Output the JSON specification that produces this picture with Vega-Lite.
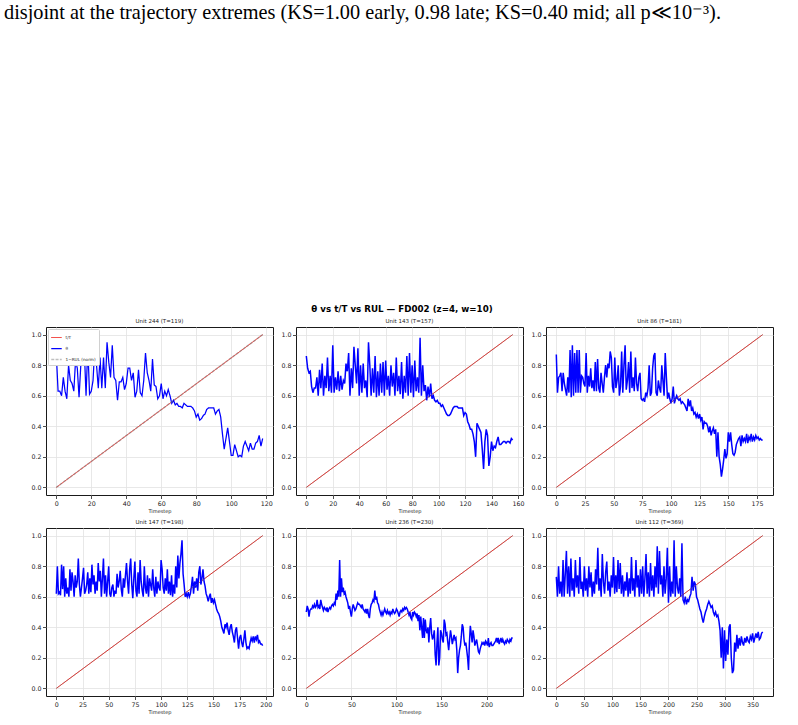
{
"$schema":"https://vega.github.io/schema/vega-lite/v6.json",
"background":"white",
"padding":{"left":4,"top":3,"right":5,"bottom":3},
"config":{
 "view":{"stroke":"#1a1a1a","strokeWidth":1},
 "axis":{"labelFont":"DejaVu Sans","labelFontSize":6.3,"labelColor":"#222","tickColor":"#222","tickSize":3.5,"tickWidth":0.8,"domain":false,"grid":true,"gridColor":"#e2e2e2","gridWidth":0.8,"titleFont":"DejaVu Sans","titleFontSize":5,"titleFontWeight":"normal","titleColor":"#222","labelPadding":1.5,"titlePadding":2},
 "legend":{"padding":2.5,"fillColor":"white","strokeColor":"#d0d0d0","cornerRadius":1,"labelFont":"DejaVu Sans","labelFontSize":4.2,"labelColor":"#222","symbolSize":110,"rowPadding":2,"labelOffset":3,"offset":2},
 "title":{"font":"DejaVu Sans","fontWeight":"normal","color":"#222","fontSize":5.5,"offset":3}
},
"title":{"text":"disjoint at the trajectory extremes (KS=1.00 early, 0.98 late; KS=0.40 mid; all p≪10⁻³).","anchor":"start","frame":"group","font":"Liberation Serif","fontSize":20.3,"color":"#000","offset":282,"dx":-42},
"datasets":{
"diag":[{"u":244,"t":0,"v":0},{"u":244,"t":118,"v":1},{"u":143,"t":0,"v":0},{"u":143,"t":156,"v":1},{"u":86,"t":0,"v":0},{"u":86,"t":180,"v":1},{"u":147,"t":0,"v":0},{"u":147,"t":197,"v":1},{"u":236,"t":0,"v":0},{"u":236,"t":229,"v":1},{"u":112,"t":0,"v":0},{"u":112,"t":368,"v":1}],
"p244":[{"t":0,"v":0.87},{"t":1,"v":0.63},{"t":2,"v":0.63},{"t":3,"v":0.60},{"t":4,"v":0.72},{"t":5,"v":0.63},{"t":6,"v":0.58},{"t":7,"v":0.80},{"t":8,"v":0.70},{"t":9,"v":0.68},
{"t":10,"v":0.63},{"t":11,"v":0.83},{"t":12,"v":0.78},{"t":13,"v":0.59},{"t":14,"v":0.80},{"t":15,"v":0.86},{"t":16,"v":0.90},{"t":17,"v":0.60},{"t":18,"v":0.92},{"t":19,"v":0.61},
{"t":20,"v":0.63},{"t":21,"v":0.70},{"t":22,"v":0.92},{"t":23,"v":0.80},{"t":24,"v":0.65},{"t":25,"v":0.85},{"t":26,"v":0.65},{"t":27,"v":0.85},{"t":28,"v":0.65},{"t":29,"v":0.95},
{"t":30,"v":0.82},{"t":31,"v":0.72},{"t":32,"v":0.93},{"t":33,"v":0.72},{"t":34,"v":0.70},{"t":35,"v":0.57},{"t":36,"v":0.69},{"t":37,"v":0.69},{"t":38,"v":0.72},{"t":39,"v":0.64},
{"t":40,"v":0.68},{"t":41,"v":0.78},{"t":42,"v":0.78},{"t":43,"v":0.70},{"t":44,"v":0.75},{"t":45,"v":0.59},{"t":46,"v":0.63},{"t":47,"v":0.77},{"t":48,"v":0.62},{"t":49,"v":0.60},
{"t":50,"v":0.70},{"t":51,"v":0.88},{"t":52,"v":0.75},{"t":53,"v":0.70},{"t":54,"v":0.63},{"t":55,"v":0.84},{"t":56,"v":0.67},{"t":57,"v":0.66},{"t":58,"v":0.58},{"t":59,"v":0.60},
{"t":60,"v":0.68},{"t":61,"v":0.58},{"t":62,"v":0.63},{"t":63,"v":0.60},{"t":64,"v":0.64},{"t":65,"v":0.60},{"t":66,"v":0.55},{"t":67,"v":0.57},{"t":68,"v":0.54},{"t":69,"v":0.55},
{"t":70,"v":0.53},{"t":71,"v":0.53},{"t":72,"v":0.52},{"t":73,"v":0.55},{"t":74,"v":0.54},{"t":75,"v":0.53},{"t":76,"v":0.53},{"t":77,"v":0.53},{"t":78,"v":0.52},{"t":79,"v":0.50},
{"t":80,"v":0.46},{"t":81,"v":0.48},{"t":82,"v":0.44},{"t":83,"v":0.45},{"t":84,"v":0.47},{"t":85,"v":0.48},{"t":86,"v":0.51},{"t":87,"v":0.52},{"t":88,"v":0.52},{"t":89,"v":0.52},
{"t":90,"v":0.52},{"t":91,"v":0.48},{"t":92,"v":0.50},{"t":93,"v":0.51},{"t":94,"v":0.46},{"t":95,"v":0.35},{"t":96,"v":0.25},{"t":97,"v":0.32},{"t":98,"v":0.39},{"t":99,"v":0.30},
{"t":100,"v":0.21},{"t":101,"v":0.21},{"t":102,"v":0.28},{"t":103,"v":0.24},{"t":104,"v":0.20},{"t":105,"v":0.21},{"t":106,"v":0.20},{"t":107,"v":0.27},{"t":108,"v":0.30},{"t":109,"v":0.27},
{"t":110,"v":0.24},{"t":111,"v":0.29},{"t":112,"v":0.25},{"t":113,"v":0.25},{"t":114,"v":0.29},{"t":115,"v":0.30},{"t":116,"v":0.34},{"t":117,"v":0.27},{"t":118,"v":0.32}],
"p143":[{"t":0,"v":0.86},{"t":1,"v":0.78},{"t":2,"v":0.75},{"t":3,"v":0.76},{"t":4,"v":0.66},{"t":5,"v":0.62},{"t":6,"v":0.65},{"t":7,"v":0.65},{"t":8,"v":0.72},{"t":9,"v":0.60},
{"t":10,"v":0.77},{"t":11,"v":0.65},{"t":12,"v":0.81},{"t":13,"v":0.60},{"t":14,"v":0.73},{"t":15,"v":0.65},{"t":16,"v":0.85},{"t":17,"v":0.63},{"t":18,"v":0.73},{"t":19,"v":0.62},
{"t":20,"v":0.93},{"t":21,"v":0.62},{"t":22,"v":0.72},{"t":23,"v":0.64},{"t":24,"v":0.76},{"t":25,"v":0.63},{"t":26,"v":0.73},{"t":27,"v":0.64},{"t":28,"v":0.70},{"t":29,"v":0.68},
{"t":30,"v":0.81},{"t":31,"v":0.76},{"t":32,"v":0.88},{"t":33,"v":0.60},{"t":34,"v":0.78},{"t":35,"v":0.65},{"t":36,"v":0.92},{"t":37,"v":0.80},{"t":38,"v":0.68},{"t":39,"v":0.91},
{"t":40,"v":0.60},{"t":41,"v":0.80},{"t":42,"v":0.62},{"t":43,"v":0.81},{"t":44,"v":0.65},{"t":45,"v":0.70},{"t":46,"v":0.59},{"t":47,"v":0.95},{"t":48,"v":0.80},{"t":49,"v":0.60},
{"t":50,"v":0.78},{"t":51,"v":0.62},{"t":52,"v":0.86},{"t":53,"v":0.59},{"t":54,"v":0.76},{"t":55,"v":0.60},{"t":56,"v":0.81},{"t":57,"v":0.62},{"t":58,"v":0.82},{"t":59,"v":0.60},
{"t":60,"v":0.83},{"t":61,"v":0.64},{"t":62,"v":0.73},{"t":63,"v":0.60},{"t":64,"v":0.80},{"t":65,"v":0.66},{"t":66,"v":0.75},{"t":67,"v":0.60},{"t":68,"v":0.85},{"t":69,"v":0.63},
{"t":70,"v":0.73},{"t":71,"v":0.61},{"t":72,"v":0.82},{"t":73,"v":0.58},{"t":74,"v":0.73},{"t":75,"v":0.62},{"t":76,"v":0.86},{"t":77,"v":0.60},{"t":78,"v":0.88},{"t":79,"v":0.62},
{"t":80,"v":0.80},{"t":81,"v":0.59},{"t":82,"v":0.83},{"t":83,"v":0.63},{"t":84,"v":0.72},{"t":85,"v":0.62},{"t":86,"v":0.98},{"t":87,"v":0.60},{"t":88,"v":0.80},{"t":89,"v":0.63},
{"t":90,"v":0.67},{"t":91,"v":0.57},{"t":92,"v":0.66},{"t":93,"v":0.59},{"t":94,"v":0.68},{"t":95,"v":0.58},{"t":96,"v":0.60},{"t":97,"v":0.57},{"t":98,"v":0.56},{"t":99,"v":0.57},
{"t":100,"v":0.55},{"t":101,"v":0.55},{"t":102,"v":0.53},{"t":103,"v":0.54},{"t":104,"v":0.52},{"t":105,"v":0.50},{"t":106,"v":0.48},{"t":107,"v":0.47},{"t":108,"v":0.47},{"t":109,"v":0.48},
{"t":110,"v":0.50},{"t":111,"v":0.52},{"t":112,"v":0.53},{"t":113,"v":0.53},{"t":114,"v":0.53},{"t":115,"v":0.52},{"t":116,"v":0.52},{"t":117,"v":0.52},{"t":118,"v":0.52},{"t":119,"v":0.47},
{"t":120,"v":0.49},{"t":121,"v":0.48},{"t":122,"v":0.43},{"t":123,"v":0.41},{"t":124,"v":0.38},{"t":125,"v":0.38},{"t":126,"v":0.35},{"t":127,"v":0.30},{"t":128,"v":0.20},{"t":129,"v":0.42},
{"t":130,"v":0.40},{"t":131,"v":0.38},{"t":132,"v":0.36},{"t":133,"v":0.25},{"t":134,"v":0.12},{"t":135,"v":0.30},{"t":136,"v":0.38},{"t":137,"v":0.34},{"t":138,"v":0.14},{"t":139,"v":0.20},
{"t":140,"v":0.30},{"t":141,"v":0.24},{"t":142,"v":0.27},{"t":143,"v":0.26},{"t":144,"v":0.30},{"t":145,"v":0.33},{"t":146,"v":0.28},{"t":147,"v":0.28},{"t":148,"v":0.29},{"t":149,"v":0.30},
{"t":150,"v":0.30},{"t":151,"v":0.29},{"t":152,"v":0.30},{"t":153,"v":0.30},{"t":154,"v":0.29},{"t":155,"v":0.32},{"t":156,"v":0.31}],
"p86":[{"t":0,"v":0.87},{"t":1,"v":0.62},{"t":2,"v":0.72},{"t":3,"v":0.73},{"t":4,"v":0.75},{"t":5,"v":0.63},{"t":6,"v":0.75},{"t":7,"v":0.68},{"t":8,"v":0.64},{"t":9,"v":0.60},
{"t":10,"v":0.72},{"t":11,"v":0.62},{"t":12,"v":0.90},{"t":13,"v":0.59},{"t":14,"v":0.93},{"t":15,"v":0.60},{"t":16,"v":0.88},{"t":17,"v":0.62},{"t":18,"v":0.90},{"t":19,"v":0.62},
{"t":20,"v":0.90},{"t":21,"v":0.62},{"t":22,"v":0.73},{"t":23,"v":0.72},{"t":24,"v":0.68},{"t":25,"v":0.66},{"t":26,"v":0.88},{"t":27,"v":0.62},{"t":28,"v":0.73},{"t":29,"v":0.66},
{"t":30,"v":0.78},{"t":31,"v":0.65},{"t":32,"v":0.70},{"t":33,"v":0.63},{"t":34,"v":0.82},{"t":35,"v":0.63},{"t":36,"v":0.84},{"t":37,"v":0.65},{"t":38,"v":0.62},{"t":39,"v":0.75},
{"t":40,"v":0.68},{"t":41,"v":0.62},{"t":42,"v":0.72},{"t":43,"v":0.80},{"t":44,"v":0.72},{"t":45,"v":0.81},{"t":46,"v":0.78},{"t":47,"v":0.89},{"t":48,"v":0.85},{"t":49,"v":0.66},
{"t":50,"v":0.62},{"t":51,"v":0.85},{"t":52,"v":0.65},{"t":53,"v":0.70},{"t":54,"v":0.80},{"t":55,"v":0.60},{"t":56,"v":0.66},{"t":57,"v":0.89},{"t":58,"v":0.62},{"t":59,"v":0.80},
{"t":60,"v":0.93},{"t":61,"v":0.64},{"t":62,"v":0.70},{"t":63,"v":0.82},{"t":64,"v":0.62},{"t":65,"v":0.89},{"t":66,"v":0.65},{"t":67,"v":0.72},{"t":68,"v":0.63},{"t":69,"v":0.85},
{"t":70,"v":0.68},{"t":71,"v":0.63},{"t":72,"v":0.72},{"t":73,"v":0.75},{"t":74,"v":0.58},{"t":75,"v":0.57},{"t":76,"v":0.58},{"t":77,"v":0.56},{"t":78,"v":0.62},{"t":79,"v":0.60},
{"t":80,"v":0.65},{"t":81,"v":0.80},{"t":82,"v":0.60},{"t":83,"v":0.62},{"t":84,"v":0.78},{"t":85,"v":0.86},{"t":86,"v":0.88},{"t":87,"v":0.62},{"t":88,"v":0.60},{"t":89,"v":0.70},
{"t":90,"v":0.65},{"t":91,"v":0.62},{"t":92,"v":0.80},{"t":93,"v":0.70},{"t":94,"v":0.60},{"t":95,"v":0.88},{"t":96,"v":0.72},{"t":97,"v":0.58},{"t":98,"v":0.62},{"t":99,"v":0.58},
{"t":100,"v":0.55},{"t":101,"v":0.58},{"t":102,"v":0.66},{"t":103,"v":0.55},{"t":104,"v":0.58},{"t":105,"v":0.60},{"t":106,"v":0.58},{"t":107,"v":0.57},{"t":108,"v":0.58},{"t":109,"v":0.55},
{"t":110,"v":0.56},{"t":111,"v":0.55},{"t":112,"v":0.54},{"t":113,"v":0.52},{"t":114,"v":0.50},{"t":115,"v":0.58},{"t":116,"v":0.53},{"t":117,"v":0.57},{"t":118,"v":0.50},{"t":119,"v":0.52},
{"t":120,"v":0.48},{"t":121,"v":0.49},{"t":122,"v":0.46},{"t":123,"v":0.48},{"t":124,"v":0.45},{"t":125,"v":0.48},{"t":126,"v":0.44},{"t":127,"v":0.46},{"t":128,"v":0.38},{"t":129,"v":0.43},
{"t":130,"v":0.42},{"t":131,"v":0.42},{"t":132,"v":0.40},{"t":133,"v":0.36},{"t":134,"v":0.40},{"t":135,"v":0.34},{"t":136,"v":0.37},{"t":137,"v":0.39},{"t":138,"v":0.35},{"t":139,"v":0.38},
{"t":140,"v":0.20},{"t":141,"v":0.36},{"t":142,"v":0.20},{"t":143,"v":0.15},{"t":144,"v":0.07},{"t":145,"v":0.12},{"t":146,"v":0.18},{"t":147,"v":0.25},{"t":148,"v":0.19},{"t":149,"v":0.22},
{"t":150,"v":0.36},{"t":151,"v":0.30},{"t":152,"v":0.36},{"t":153,"v":0.28},{"t":154,"v":0.22},{"t":155,"v":0.21},{"t":156,"v":0.23},{"t":157,"v":0.28},{"t":158,"v":0.30},{"t":159,"v":0.32},
{"t":160,"v":0.33},{"t":161,"v":0.27},{"t":162,"v":0.34},{"t":163,"v":0.30},{"t":164,"v":0.32},{"t":165,"v":0.30},{"t":166,"v":0.35},{"t":167,"v":0.29},{"t":168,"v":0.33},{"t":169,"v":0.31},
{"t":170,"v":0.35},{"t":171,"v":0.30},{"t":172,"v":0.33},{"t":173,"v":0.31},{"t":174,"v":0.34},{"t":175,"v":0.32},{"t":176,"v":0.33},{"t":177,"v":0.31},{"t":178,"v":0.32},{"t":179,"v":0.31},{"t":180,"v":0.31}],
"p147":[{"t":0,"v":0.62},{"t":1,"v":0.80},{"t":2,"v":0.62},{"t":3,"v":0.63},{"t":4,"v":0.61},{"t":5,"v":0.81},{"t":6,"v":0.65},{"t":7,"v":0.80},{"t":8,"v":0.60},{"t":9,"v":0.72},
{"t":10,"v":0.62},{"t":11,"v":0.66},{"t":12,"v":0.60},{"t":13,"v":0.78},{"t":14,"v":0.64},{"t":15,"v":0.76},{"t":16,"v":0.70},{"t":17,"v":0.60},{"t":18,"v":0.74},{"t":19,"v":0.66},
{"t":20,"v":0.70},{"t":21,"v":0.85},{"t":22,"v":0.68},{"t":23,"v":0.60},{"t":24,"v":0.66},{"t":25,"v":0.72},{"t":26,"v":0.79},{"t":27,"v":0.62},{"t":28,"v":0.64},{"t":29,"v":0.68},
{"t":30,"v":0.76},{"t":31,"v":0.62},{"t":32,"v":0.72},{"t":33,"v":0.63},{"t":34,"v":0.81},{"t":35,"v":0.68},{"t":36,"v":0.74},{"t":37,"v":0.62},{"t":38,"v":0.70},{"t":39,"v":0.64},
{"t":40,"v":0.82},{"t":41,"v":0.70},{"t":42,"v":0.77},{"t":43,"v":0.60},{"t":44,"v":0.72},{"t":45,"v":0.85},{"t":46,"v":0.62},{"t":47,"v":0.74},{"t":48,"v":0.60},{"t":49,"v":0.70},
{"t":50,"v":0.80},{"t":51,"v":0.62},{"t":52,"v":0.60},{"t":53,"v":0.66},{"t":54,"v":0.68},{"t":55,"v":0.60},{"t":56,"v":0.64},{"t":57,"v":0.62},{"t":58,"v":0.75},{"t":59,"v":0.66},
{"t":60,"v":0.70},{"t":61,"v":0.77},{"t":62,"v":0.65},{"t":63,"v":0.60},{"t":64,"v":0.72},{"t":65,"v":0.66},{"t":66,"v":0.74},{"t":67,"v":0.82},{"t":68,"v":0.70},{"t":69,"v":0.62},
{"t":70,"v":0.78},{"t":71,"v":0.85},{"t":72,"v":0.68},{"t":73,"v":0.59},{"t":74,"v":0.72},{"t":75,"v":0.83},{"t":76,"v":0.64},{"t":77,"v":0.60},{"t":78,"v":0.76},{"t":79,"v":0.62},
{"t":80,"v":0.84},{"t":81,"v":0.70},{"t":82,"v":0.64},{"t":83,"v":0.60},{"t":84,"v":0.80},{"t":85,"v":0.66},{"t":86,"v":0.62},{"t":87,"v":0.74},{"t":88,"v":0.60},{"t":89,"v":0.72},
{"t":90,"v":0.68},{"t":91,"v":0.64},{"t":92,"v":0.78},{"t":93,"v":0.66},{"t":94,"v":0.60},{"t":95,"v":0.73},{"t":96,"v":0.62},{"t":97,"v":0.70},{"t":98,"v":0.66},{"t":99,"v":0.64},
{"t":100,"v":0.84},{"t":101,"v":0.78},{"t":102,"v":0.66},{"t":103,"v":0.62},{"t":104,"v":0.72},{"t":105,"v":0.64},{"t":106,"v":0.78},{"t":107,"v":0.62},{"t":108,"v":0.70},{"t":109,"v":0.61},
{"t":110,"v":0.74},{"t":111,"v":0.60},{"t":112,"v":0.68},{"t":113,"v":0.62},{"t":114,"v":0.80},{"t":115,"v":0.66},{"t":116,"v":0.87},{"t":117,"v":0.72},{"t":118,"v":0.82},{"t":119,"v":0.88},
{"t":120,"v":0.97},{"t":121,"v":0.75},{"t":122,"v":0.68},{"t":123,"v":0.60},{"t":124,"v":0.62},{"t":125,"v":0.60},{"t":126,"v":0.63},{"t":127,"v":0.60},{"t":128,"v":0.62},{"t":129,"v":0.67},
{"t":130,"v":0.73},{"t":131,"v":0.62},{"t":132,"v":0.70},{"t":133,"v":0.66},{"t":134,"v":0.72},{"t":135,"v":0.64},{"t":136,"v":0.76},{"t":137,"v":0.80},{"t":138,"v":0.68},{"t":139,"v":0.72},
{"t":140,"v":0.78},{"t":141,"v":0.70},{"t":142,"v":0.67},{"t":143,"v":0.62},{"t":144,"v":0.60},{"t":145,"v":0.57},{"t":146,"v":0.60},{"t":147,"v":0.62},{"t":148,"v":0.56},{"t":149,"v":0.59},
{"t":150,"v":0.56},{"t":151,"v":0.58},{"t":152,"v":0.55},{"t":153,"v":0.52},{"t":154,"v":0.50},{"t":155,"v":0.49},{"t":156,"v":0.47},{"t":157,"v":0.44},{"t":158,"v":0.40},{"t":159,"v":0.38},
{"t":160,"v":0.36},{"t":161,"v":0.42},{"t":162,"v":0.40},{"t":163,"v":0.43},{"t":164,"v":0.38},{"t":165,"v":0.35},{"t":166,"v":0.40},{"t":167,"v":0.42},{"t":168,"v":0.37},{"t":169,"v":0.34},
{"t":170,"v":0.30},{"t":171,"v":0.38},{"t":172,"v":0.40},{"t":173,"v":0.33},{"t":174,"v":0.26},{"t":175,"v":0.33},{"t":176,"v":0.35},{"t":177,"v":0.30},{"t":178,"v":0.27},{"t":179,"v":0.32},
{"t":180,"v":0.38},{"t":181,"v":0.30},{"t":182,"v":0.26},{"t":183,"v":0.27},{"t":184,"v":0.26},{"t":185,"v":0.30},{"t":186,"v":0.33},{"t":187,"v":0.31},{"t":188,"v":0.34},{"t":189,"v":0.30},
{"t":190,"v":0.34},{"t":191,"v":0.32},{"t":192,"v":0.35},{"t":193,"v":0.30},{"t":194,"v":0.31},{"t":195,"v":0.29},{"t":196,"v":0.29},{"t":197,"v":0.28}],
"p236":[{"t":0,"v":0.50},{"t":1,"v":0.54},{"t":2,"v":0.52},{"t":3,"v":0.47},{"t":4,"v":0.51},{"t":5,"v":0.52},{"t":6,"v":0.52},{"t":7,"v":0.54},{"t":8,"v":0.53},{"t":9,"v":0.55},
{"t":10,"v":0.53},{"t":11,"v":0.54},{"t":12,"v":0.58},{"t":13,"v":0.53},{"t":14,"v":0.54},{"t":15,"v":0.52},{"t":16,"v":0.58},{"t":17,"v":0.55},{"t":18,"v":0.53},{"t":19,"v":0.51},
{"t":20,"v":0.53},{"t":21,"v":0.52},{"t":22,"v":0.51},{"t":23,"v":0.53},{"t":24,"v":0.50},{"t":25,"v":0.52},{"t":26,"v":0.53},{"t":27,"v":0.52},{"t":28,"v":0.54},{"t":29,"v":0.55},
{"t":30,"v":0.54},{"t":31,"v":0.56},{"t":32,"v":0.55},{"t":33,"v":0.62},{"t":34,"v":0.58},{"t":35,"v":0.64},{"t":36,"v":0.60},{"t":37,"v":0.84},{"t":38,"v":0.60},{"t":39,"v":0.72},
{"t":40,"v":0.63},{"t":41,"v":0.66},{"t":42,"v":0.62},{"t":43,"v":0.63},{"t":44,"v":0.60},{"t":45,"v":0.58},{"t":46,"v":0.56},{"t":47,"v":0.52},{"t":48,"v":0.54},{"t":49,"v":0.50},
{"t":50,"v":0.47},{"t":51,"v":0.52},{"t":52,"v":0.55},{"t":53,"v":0.53},{"t":54,"v":0.51},{"t":55,"v":0.52},{"t":56,"v":0.54},{"t":57,"v":0.56},{"t":58,"v":0.55},{"t":59,"v":0.55},
{"t":60,"v":0.54},{"t":61,"v":0.53},{"t":62,"v":0.55},{"t":63,"v":0.52},{"t":64,"v":0.51},{"t":65,"v":0.50},{"t":66,"v":0.52},{"t":67,"v":0.49},{"t":68,"v":0.52},{"t":69,"v":0.48},
{"t":70,"v":0.46},{"t":71,"v":0.52},{"t":72,"v":0.55},{"t":73,"v":0.56},{"t":74,"v":0.58},{"t":75,"v":0.57},{"t":76,"v":0.64},{"t":77,"v":0.58},{"t":78,"v":0.60},{"t":79,"v":0.56},
{"t":80,"v":0.55},{"t":81,"v":0.52},{"t":82,"v":0.50},{"t":83,"v":0.48},{"t":84,"v":0.50},{"t":85,"v":0.48},{"t":86,"v":0.50},{"t":87,"v":0.52},{"t":88,"v":0.50},{"t":89,"v":0.49},
{"t":90,"v":0.51},{"t":91,"v":0.49},{"t":92,"v":0.50},{"t":93,"v":0.48},{"t":94,"v":0.50},{"t":95,"v":0.49},{"t":96,"v":0.52},{"t":97,"v":0.50},{"t":98,"v":0.49},{"t":99,"v":0.50},
{"t":100,"v":0.52},{"t":101,"v":0.51},{"t":102,"v":0.49},{"t":103,"v":0.47},{"t":104,"v":0.50},{"t":105,"v":0.51},{"t":106,"v":0.50},{"t":107,"v":0.52},{"t":108,"v":0.51},{"t":109,"v":0.53},
{"t":110,"v":0.52},{"t":111,"v":0.53},{"t":112,"v":0.52},{"t":113,"v":0.50},{"t":114,"v":0.48},{"t":115,"v":0.50},{"t":116,"v":0.46},{"t":117,"v":0.45},{"t":118,"v":0.50},{"t":119,"v":0.48},
{"t":120,"v":0.50},{"t":121,"v":0.49},{"t":122,"v":0.47},{"t":123,"v":0.49},{"t":124,"v":0.44},{"t":125,"v":0.48},{"t":126,"v":0.38},{"t":127,"v":0.47},{"t":128,"v":0.40},{"t":129,"v":0.33},
{"t":130,"v":0.46},{"t":131,"v":0.33},{"t":132,"v":0.45},{"t":133,"v":0.38},{"t":134,"v":0.36},{"t":135,"v":0.40},{"t":136,"v":0.30},{"t":137,"v":0.40},{"t":138,"v":0.46},{"t":139,"v":0.36},
{"t":140,"v":0.32},{"t":141,"v":0.34},{"t":142,"v":0.38},{"t":143,"v":0.22},{"t":144,"v":0.15},{"t":145,"v":0.30},{"t":146,"v":0.40},{"t":147,"v":0.15},{"t":148,"v":0.20},{"t":149,"v":0.38},
{"t":150,"v":0.36},{"t":151,"v":0.32},{"t":152,"v":0.30},{"t":153,"v":0.45},{"t":154,"v":0.42},{"t":155,"v":0.35},{"t":156,"v":0.36},{"t":157,"v":0.30},{"t":158,"v":0.25},{"t":159,"v":0.32},
{"t":160,"v":0.38},{"t":161,"v":0.34},{"t":162,"v":0.29},{"t":163,"v":0.32},{"t":164,"v":0.35},{"t":165,"v":0.32},{"t":166,"v":0.33},{"t":167,"v":0.25},{"t":168,"v":0.10},{"t":169,"v":0.20},
{"t":170,"v":0.25},{"t":171,"v":0.28},{"t":172,"v":0.34},{"t":173,"v":0.42},{"t":174,"v":0.40},{"t":175,"v":0.32},{"t":176,"v":0.28},{"t":177,"v":0.30},{"t":178,"v":0.25},{"t":179,"v":0.20},
{"t":180,"v":0.12},{"t":181,"v":0.30},{"t":182,"v":0.41},{"t":183,"v":0.36},{"t":184,"v":0.30},{"t":185,"v":0.38},{"t":186,"v":0.34},{"t":187,"v":0.28},{"t":188,"v":0.30},{"t":189,"v":0.32},
{"t":190,"v":0.28},{"t":191,"v":0.24},{"t":192,"v":0.23},{"t":193,"v":0.26},{"t":194,"v":0.28},{"t":195,"v":0.30},{"t":196,"v":0.29},{"t":197,"v":0.30},{"t":198,"v":0.28},{"t":199,"v":0.31},
{"t":200,"v":0.30},{"t":201,"v":0.28},{"t":202,"v":0.33},{"t":203,"v":0.27},{"t":204,"v":0.29},{"t":205,"v":0.30},{"t":206,"v":0.28},{"t":207,"v":0.28},{"t":208,"v":0.29},{"t":209,"v":0.30},
{"t":210,"v":0.31},{"t":211,"v":0.33},{"t":212,"v":0.30},{"t":213,"v":0.33},{"t":214,"v":0.29},{"t":215,"v":0.31},{"t":216,"v":0.33},{"t":217,"v":0.30},{"t":218,"v":0.32},{"t":219,"v":0.30},
{"t":220,"v":0.29},{"t":221,"v":0.31},{"t":222,"v":0.30},{"t":223,"v":0.32},{"t":224,"v":0.31},{"t":225,"v":0.30},{"t":226,"v":0.32},{"t":227,"v":0.31},{"t":228,"v":0.33},{"t":229,"v":0.33}],
"p112":[{"t":0,"v":0.73},{"t":2,"v":0.60},{"t":4,"v":0.80},{"t":6,"v":0.62},{"t":8,"v":0.70},{"t":10,"v":0.60},{"t":12,"v":0.84},{"t":14,"v":0.60},{"t":16,"v":0.75},{"t":18,"v":0.90},
{"t":20,"v":0.62},{"t":22,"v":0.80},{"t":24,"v":0.60},{"t":26,"v":0.85},{"t":28,"v":0.64},{"t":30,"v":0.72},{"t":32,"v":0.60},{"t":34,"v":0.84},{"t":36,"v":0.66},{"t":38,"v":0.74},
{"t":40,"v":0.62},{"t":42,"v":0.86},{"t":44,"v":0.65},{"t":46,"v":0.70},{"t":48,"v":0.60},{"t":50,"v":0.80},{"t":52,"v":0.64},{"t":54,"v":0.72},{"t":56,"v":0.60},{"t":58,"v":0.80},
{"t":60,"v":0.66},{"t":62,"v":0.76},{"t":64,"v":0.60},{"t":66,"v":0.70},{"t":68,"v":0.62},{"t":70,"v":0.78},{"t":72,"v":0.68},{"t":74,"v":0.92},{"t":76,"v":0.64},{"t":78,"v":0.72},
{"t":80,"v":0.60},{"t":82,"v":0.88},{"t":84,"v":0.70},{"t":86,"v":0.62},{"t":88,"v":0.76},{"t":90,"v":0.83},{"t":92,"v":0.64},{"t":94,"v":0.70},{"t":96,"v":0.60},{"t":98,"v":0.74},
{"t":100,"v":0.66},{"t":102,"v":0.86},{"t":104,"v":0.62},{"t":106,"v":0.74},{"t":108,"v":0.63},{"t":110,"v":0.84},{"t":112,"v":0.65},{"t":114,"v":0.82},{"t":116,"v":0.62},{"t":118,"v":0.74},
{"t":120,"v":0.60},{"t":122,"v":0.70},{"t":124,"v":0.64},{"t":126,"v":0.76},{"t":128,"v":0.60},{"t":130,"v":0.72},{"t":132,"v":0.62},{"t":134,"v":0.86},{"t":136,"v":0.64},{"t":138,"v":0.72},
{"t":140,"v":0.60},{"t":142,"v":0.84},{"t":144,"v":0.66},{"t":146,"v":0.74},{"t":148,"v":0.60},{"t":150,"v":0.78},{"t":152,"v":0.62},{"t":154,"v":0.80},{"t":156,"v":0.60},{"t":158,"v":0.72},
{"t":160,"v":0.88},{"t":162,"v":0.62},{"t":164,"v":0.76},{"t":166,"v":0.60},{"t":168,"v":0.82},{"t":170,"v":0.64},{"t":172,"v":0.74},{"t":174,"v":0.60},{"t":176,"v":0.80},{"t":178,"v":0.66},
{"t":180,"v":0.93},{"t":182,"v":0.62},{"t":184,"v":0.90},{"t":186,"v":0.68},{"t":188,"v":0.74},{"t":190,"v":0.60},{"t":192,"v":0.80},{"t":194,"v":0.62},{"t":196,"v":0.72},{"t":198,"v":0.92},
{"t":200,"v":0.56},{"t":202,"v":0.80},{"t":204,"v":0.60},{"t":206,"v":0.70},{"t":208,"v":0.62},{"t":210,"v":0.97},{"t":212,"v":0.60},{"t":214,"v":0.80},{"t":216,"v":0.66},{"t":218,"v":0.62},
{"t":220,"v":0.72},{"t":222,"v":0.60},{"t":224,"v":0.95},{"t":226,"v":0.58},{"t":228,"v":0.56},{"t":230,"v":0.60},{"t":232,"v":0.55},{"t":234,"v":0.58},{"t":236,"v":0.57},{"t":238,"v":0.60},
{"t":240,"v":0.62},{"t":242,"v":0.73},{"t":244,"v":0.64},{"t":246,"v":0.70},{"t":248,"v":0.68},{"t":250,"v":0.60},{"t":252,"v":0.58},{"t":254,"v":0.55},{"t":256,"v":0.52},{"t":258,"v":0.50},
{"t":260,"v":0.46},{"t":262,"v":0.43},{"t":264,"v":0.47},{"t":266,"v":0.50},{"t":268,"v":0.52},{"t":270,"v":0.55},{"t":272,"v":0.57},{"t":274,"v":0.55},{"t":276,"v":0.53},{"t":278,"v":0.54},
{"t":280,"v":0.50},{"t":282,"v":0.48},{"t":284,"v":0.50},{"t":286,"v":0.47},{"t":288,"v":0.48},{"t":290,"v":0.44},{"t":292,"v":0.38},{"t":294,"v":0.20},{"t":296,"v":0.40},{"t":298,"v":0.13},
{"t":300,"v":0.38},{"t":302,"v":0.18},{"t":304,"v":0.32},{"t":306,"v":0.22},{"t":308,"v":0.40},{"t":310,"v":0.42},{"t":312,"v":0.20},{"t":314,"v":0.10},{"t":316,"v":0.12},{"t":318,"v":0.30},
{"t":320,"v":0.24},{"t":322,"v":0.35},{"t":324,"v":0.26},{"t":326,"v":0.33},{"t":328,"v":0.28},{"t":330,"v":0.34},{"t":332,"v":0.30},{"t":334,"v":0.28},{"t":336,"v":0.33},{"t":338,"v":0.30},
{"t":340,"v":0.34},{"t":342,"v":0.31},{"t":344,"v":0.30},{"t":346,"v":0.34},{"t":348,"v":0.32},{"t":350,"v":0.36},{"t":352,"v":0.30},{"t":354,"v":0.33},{"t":356,"v":0.36},{"t":358,"v":0.33},
{"t":360,"v":0.37},{"t":362,"v":0.32},{"t":364,"v":0.33},{"t":366,"v":0.36},{"t":368,"v":0.37}]
},
"resolve":{"scale":{"color":"independent","strokeDash":"independent","strokeWidth":"independent"}},
"spacing":5,
"vconcat":[
{"title":{"text":"θ vs t/T vs RUL — FD002 (z=4, w=10)","font":"DejaVu Sans","fontSize":8.7,"fontWeight":"bold","color":"#000","anchor":"middle","offset":4},
 "resolve":{"scale":{"color":"independent","strokeDash":"independent","strokeWidth":"independent"}},
 "bounds":"flush","spacing":23,
 "hconcat":[
 {"width":227,"height":168,"title":{"text":"Unit 244 (T=119)"},
  "encoding":{"x":{"field":"t","type":"quantitative","scale":{"domain":[-5.9,123.9],"nice":false,"zero":false},"axis":{"title":"Timestep","values":[0,20,40,60,80,100,120]}},
   "y":{"field":"v","type":"quantitative","scale":{"domain":[-0.05,1.05],"nice":false,"zero":false},"axis":{"title":null,"values":[0,0.2,0.4,0.6,0.8,1],"format":".1f"}}},
  "layer":[
   {"data":{"name":"diag"},"transform":[{"filter":"datum.u==244"}],"mark":{"type":"line"},
    "encoding":{"color":{"datum":"t/T","type":"nominal","scale":{"domain":["t/T","θ","1−RUL (norm)"],"range":["#f02a24","#0000ff","rgba(128,128,128,0.5)"]},"legend":{"title":null,"orient":"top-left"}},
     "strokeDash":{"datum":"t/T","type":"nominal","scale":{"domain":["t/T","θ","1−RUL (norm)"],"range":[[1,0],[1,0],[3,1.3]]},"legend":{"title":null,"orient":"top-left"}},
     "strokeWidth":{"datum":"t/T","type":"nominal","scale":{"domain":["t/T","θ","1−RUL (norm)"],"range":[1,1.5,1]},"legend":{"title":null,"orient":"top-left"}}}},
   {"data":{"name":"p244"},"mark":{"type":"line"},
    "encoding":{"color":{"datum":"θ","type":"nominal","scale":{"domain":["t/T","θ","1−RUL (norm)"],"range":["#f02a24","#0000ff","rgba(128,128,128,0.5)"]},"legend":{"title":null,"orient":"top-left"}},
     "strokeDash":{"datum":"θ","type":"nominal","scale":{"domain":["t/T","θ","1−RUL (norm)"],"range":[[1,0],[1,0],[3,1.3]]},"legend":{"title":null,"orient":"top-left"}},
     "strokeWidth":{"datum":"θ","type":"nominal","scale":{"domain":["t/T","θ","1−RUL (norm)"],"range":[1,1.5,1]},"legend":{"title":null,"orient":"top-left"}}}},
   {"data":{"name":"diag"},"transform":[{"filter":"datum.u==244"}],"mark":{"type":"line"},
    "encoding":{"color":{"datum":"1−RUL (norm)","type":"nominal","scale":{"domain":["t/T","θ","1−RUL (norm)"],"range":["#f02a24","#0000ff","rgba(128,128,128,0.5)"]},"legend":{"title":null,"orient":"top-left"}},
     "strokeDash":{"datum":"1−RUL (norm)","type":"nominal","scale":{"domain":["t/T","θ","1−RUL (norm)"],"range":[[1,0],[1,0],[3,1.3]]},"legend":{"title":null,"orient":"top-left"}},
     "strokeWidth":{"datum":"1−RUL (norm)","type":"nominal","scale":{"domain":["t/T","θ","1−RUL (norm)"],"range":[1,1.5,1]},"legend":{"title":null,"orient":"top-left"}}}}
  ]},
 {"width":227,"height":168,"title":{"text":"Unit 143 (T=157)"},
  "encoding":{"x":{"field":"t","type":"quantitative","scale":{"domain":[-7.8,163.8],"nice":false,"zero":false},"axis":{"title":"Timestep","values":[0,20,40,60,80,100,120,140,160]}},
   "y":{"field":"v","type":"quantitative","scale":{"domain":[-0.05,1.05],"nice":false,"zero":false},"axis":{"title":null,"values":[0,0.2,0.4,0.6,0.8,1],"format":".1f"}}},
  "layer":[
   {"data":{"name":"diag"},"transform":[{"filter":"datum.u==143"}],"mark":{"type":"line","color":"#f02a24","strokeWidth":1}},
   {"data":{"name":"p143"},"mark":{"type":"line","color":"#0000ff","strokeWidth":1.5}},
   {"data":{"name":"diag"},"transform":[{"filter":"datum.u==143"}],"mark":{"type":"line","color":"rgba(128,128,128,0.5)","strokeWidth":1,"strokeDash":[3,1.3]}}
  ]},
 {"width":227,"height":168,"title":{"text":"Unit 86 (T=181)"},
  "encoding":{"x":{"field":"t","type":"quantitative","scale":{"domain":[-9,189],"nice":false,"zero":false},"axis":{"title":"Timestep","values":[0,25,50,75,100,125,150,175]}},
   "y":{"field":"v","type":"quantitative","scale":{"domain":[-0.05,1.05],"nice":false,"zero":false},"axis":{"title":null,"values":[0,0.2,0.4,0.6,0.8,1],"format":".1f"}}},
  "layer":[
   {"data":{"name":"diag"},"transform":[{"filter":"datum.u==86"}],"mark":{"type":"line","color":"#f02a24","strokeWidth":1}},
   {"data":{"name":"p86"},"mark":{"type":"line","color":"#0000ff","strokeWidth":1.5}},
   {"data":{"name":"diag"},"transform":[{"filter":"datum.u==86"}],"mark":{"type":"line","color":"rgba(128,128,128,0.5)","strokeWidth":1,"strokeDash":[3,1.3]}}
  ]}
 ]},
{"resolve":{"scale":{"color":"independent","strokeDash":"independent","strokeWidth":"independent"}},
 "bounds":"flush","spacing":23,
 "hconcat":[
 {"width":227,"height":168,"title":{"text":"Unit 147 (T=198)"},
  "encoding":{"x":{"field":"t","type":"quantitative","scale":{"domain":[-9.85,206.85],"nice":false,"zero":false},"axis":{"title":"Timestep","values":[0,25,50,75,100,125,150,175,200]}},
   "y":{"field":"v","type":"quantitative","scale":{"domain":[-0.05,1.05],"nice":false,"zero":false},"axis":{"title":null,"values":[0,0.2,0.4,0.6,0.8,1],"format":".1f"}}},
  "layer":[
   {"data":{"name":"diag"},"transform":[{"filter":"datum.u==147"}],"mark":{"type":"line","color":"#f02a24","strokeWidth":1}},
   {"data":{"name":"p147"},"mark":{"type":"line","color":"#0000ff","strokeWidth":1.5}},
   {"data":{"name":"diag"},"transform":[{"filter":"datum.u==147"}],"mark":{"type":"line","color":"rgba(128,128,128,0.5)","strokeWidth":1,"strokeDash":[3,1.3]}}
  ]},
 {"width":227,"height":168,"title":{"text":"Unit 236 (T=230)"},
  "encoding":{"x":{"field":"t","type":"quantitative","scale":{"domain":[-11.45,240.45],"nice":false,"zero":false},"axis":{"title":"Timestep","values":[0,50,100,150,200]}},
   "y":{"field":"v","type":"quantitative","scale":{"domain":[-0.05,1.05],"nice":false,"zero":false},"axis":{"title":null,"values":[0,0.2,0.4,0.6,0.8,1],"format":".1f"}}},
  "layer":[
   {"data":{"name":"diag"},"transform":[{"filter":"datum.u==236"}],"mark":{"type":"line","color":"#f02a24","strokeWidth":1}},
   {"data":{"name":"p236"},"mark":{"type":"line","color":"#0000ff","strokeWidth":1.5}},
   {"data":{"name":"diag"},"transform":[{"filter":"datum.u==236"}],"mark":{"type":"line","color":"rgba(128,128,128,0.5)","strokeWidth":1,"strokeDash":[3,1.3]}}
  ]},
 {"width":227,"height":168,"title":{"text":"Unit 112 (T=369)"},
  "encoding":{"x":{"field":"t","type":"quantitative","scale":{"domain":[-18.4,386.4],"nice":false,"zero":false},"axis":{"title":"Timestep","values":[0,50,100,150,200,250,300,350]}},
   "y":{"field":"v","type":"quantitative","scale":{"domain":[-0.05,1.05],"nice":false,"zero":false},"axis":{"title":null,"values":[0,0.2,0.4,0.6,0.8,1],"format":".1f"}}},
  "layer":[
   {"data":{"name":"diag"},"transform":[{"filter":"datum.u==112"}],"mark":{"type":"line","color":"#f02a24","strokeWidth":1}},
   {"data":{"name":"p112"},"mark":{"type":"line","color":"#0000ff","strokeWidth":1.5}},
   {"data":{"name":"diag"},"transform":[{"filter":"datum.u==112"}],"mark":{"type":"line","color":"rgba(128,128,128,0.5)","strokeWidth":1,"strokeDash":[3,1.3]}}
  ]}
 ]}
]
}
